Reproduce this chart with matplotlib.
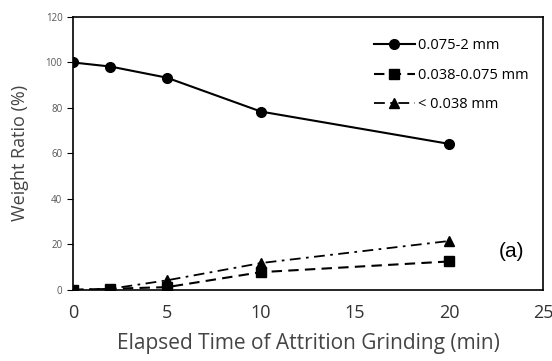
import matplotlib.pyplot as plt

time_min = [0, 2, 5, 10, 20]
coarse = [100, 98.2, 93.3, 78.4, 64.2]
medium = [0, 0.5, 1.2, 7.8, 12.5]
fine = [0, 0.5, 4.2, 11.8, 21.5]

plt.rcParams['font.family'] = ['Open Sans', 'DejaVu Sans']

fig = plt.figure(figsize=(5.52, 3.61), dpi=100)
ax = fig.add_axes([0.132, 0.197, 0.852, 0.756])

ax.plot(time_min, coarse, color='black', lw=1.5, marker='o', ms=7, label='0.075-2 mm')
ax.plot(time_min, medium, color='black', lw=1.5, ls=(0, (5, 3)), marker='s', ms=7,
        label='0.038-0.075 mm')
ax.plot(time_min, fine, color='black', lw=1.3, ls=(0, (6, 3, 1.5, 3)), marker='^', ms=7,
        label='< 0.038 mm')

ax.set_xlim(0, 25)
ax.set_ylim(0, 120)
ax.set_xticks([0, 5, 10, 15, 20, 25])
ax.set_yticks(range(0, 121, 20))
ax.tick_params(axis='x', length=0, labelsize=13, pad=10, labelcolor='#333333')
ax.tick_params(axis='y', length=4, labelsize=7, labelcolor='#555555', direction='out')
for s in ax.spines.values():
    s.set_linewidth(1.2)

ax.set_ylabel('Weight Ratio (%)', fontsize=13, color='#444444', labelpad=12)
ax.set_xlabel('Elapsed Time of Attrition Grinding (min)', fontsize=15, color='#444444',
              labelpad=8)

ax.legend(loc='upper left', bbox_to_anchor=(0.64, 0.922), frameon=False, fontsize=10.5,
          handlelength=2.8, borderaxespad=0, borderpad=0, labelspacing=1.0,
          handletextpad=0.2)
ax.text(0.932, 0.14, '(a)', transform=ax.transAxes, fontsize=15, family='Liberation Sans',
        ha='center', va='center')

fig.savefig('out.png', dpi=100)
